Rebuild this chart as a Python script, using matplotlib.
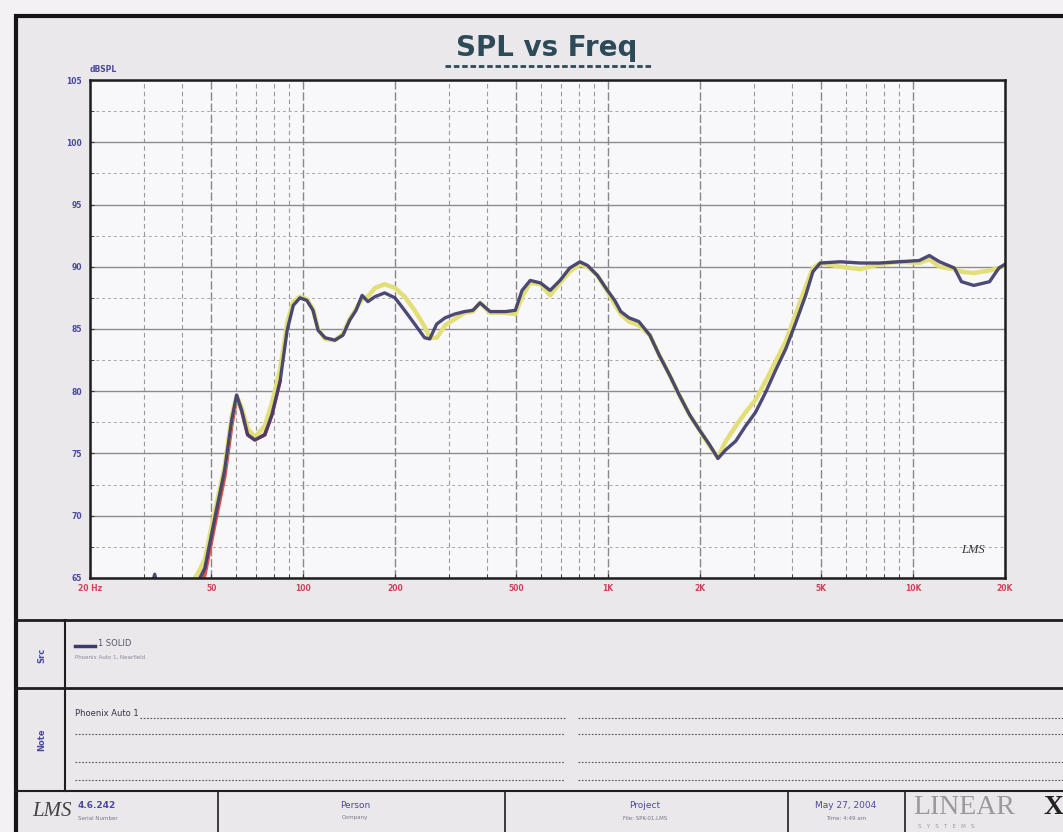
import numpy as np
import matplotlib.pyplot as plt
from matplotlib.ticker import FixedLocator, NullFormatter

freq_hz = [20, 30, 32.6, 35, 42, 45, 47.6, 51.2, 55.3, 58.3, 60.5, 62.8, 65.8, 69.4,
           74.8, 78.9, 84.1, 88.6, 92.8, 97.6, 102.8, 107.7, 111.9, 117.9, 127, 135,
           142, 149, 156, 163, 172, 185, 200, 215, 232, 250, 260, 274, 292, 314, 338,
           360, 380, 410, 460, 496, 522, 555, 600, 645, 695, 748, 808, 856, 922, 995,
           1050, 1100, 1170, 1260, 1370, 1470, 1590, 1710, 1850, 1990, 2150, 2290,
           2430, 2620, 2820, 3040, 3280, 3540, 3820, 4120, 4440, 4690, 4960, 5770,
           6700, 7760, 9000, 10470, 11300, 12200, 13650, 14400, 15800, 17800, 19100,
           20000]
spl_blue = [60, 62, 65.3, 62, 62, 64.6, 65.8, 69.7, 73.7, 77.7, 79.7, 78.5, 76.5, 76.1,
            76.5, 78.1, 80.9, 84.9, 86.9, 87.5, 87.3, 86.5, 84.9, 84.3, 84.1, 84.5,
            85.7, 86.5, 87.7, 87.2, 87.6, 87.9, 87.5, 86.5, 85.4, 84.3, 84.2, 85.4,
            85.9, 86.2, 86.4, 86.5, 87.1, 86.4, 86.4, 86.5, 88.1, 88.9, 88.7, 88.1,
            88.9, 89.9, 90.4, 90.1, 89.3, 88.1, 87.3, 86.4, 85.9, 85.6, 84.5, 82.9,
            81.3, 79.7, 78.1, 76.9, 75.7, 74.6, 75.3, 76.0, 77.2, 78.3, 79.9, 81.7,
            83.4, 85.5, 87.7, 89.6, 90.3, 90.4, 90.3, 90.3, 90.4, 90.5, 90.9, 90.4,
            89.9, 88.8, 88.5, 88.8, 89.9, 90.2]
spl_yellow = [60, 62, 64.5, 62, 64.3, 65.3, 66.5, 70.2, 74.0, 78.0, 79.6, 78.7, 77.0,
              76.3, 77.2, 79.0, 81.8, 85.5, 87.2, 87.6, 87.4, 86.6, 85.0, 84.2, 84.1,
              84.6, 85.8, 86.6, 87.4, 87.6, 88.3, 88.6, 88.3, 87.6, 86.5, 85.2, 84.3,
              84.3, 85.3, 85.8, 86.3, 86.4, 87.1, 86.3, 86.3, 86.2, 87.6, 88.7, 88.6,
              87.7, 88.7, 89.6, 90.2, 90.0, 89.3, 88.0, 87.0, 86.2, 85.6, 85.3, 84.5,
              82.9, 81.3, 79.7, 78.1, 76.9, 75.6, 74.7, 76.0, 77.2, 78.3, 79.3, 80.8,
              82.4, 84.0, 86.2, 88.4, 89.9, 90.3, 90.0, 89.8, 90.2, 90.4, 90.3, 90.6,
              90.0, 89.8, 89.6, 89.5, 89.7, 89.9, 90.1]
freq_red = [42, 45, 47.6, 51.2, 55.3, 58.3, 60.5, 62.8, 65.8, 69.4, 74.8, 78.9, 84.1]
spl_red = [61, 63.5, 65.3, 69.2, 73.2, 77.3, 79.5, 78.5, 76.5, 76.1, 76.5, 78.1, 80.9]

x_ticks = [20, 50, 100, 200, 500, 1000, 2000, 5000, 10000, 20000]
x_labels = ["20 Hz", "50", "100", "200", "500", "1K", "2K", "5K", "10K", "20K"]
y_ticks = [65, 70, 75, 80, 85, 90, 95, 100, 105]

W, H = 1063, 832
fig = plt.figure(figsize=(W / 100, H / 100), dpi=100)
fig.patch.set_facecolor("#f3f1f3")

# page / form drawn in pixel coords
bg = fig.add_axes([0, 0, 1, 1])
bg.set_xlim(0, W)
bg.set_ylim(H, 0)
bg.axis("off")
bg.add_patch(plt.Rectangle((16, 16), W, H, facecolor="#ebe8ec", edgecolor="#151515", lw=3))

ink = "#1e1e1e"
bg.plot([16, W], [620, 620], color=ink, lw=2)
bg.plot([16, W], [688, 688], color=ink, lw=2)
bg.plot([16, W], [791, 791], color=ink, lw=1.5)
bg.plot([65, 65], [620, 791], color=ink, lw=1.5)
for xv in [218, 505, 788, 905]:
    bg.plot([xv, xv], [791, H], color=ink, lw=1.2)

bg.text(547, 48, "SPL vs Freq", ha="center", va="center", fontsize=20,
        fontweight="bold", color="#2c4a58")
bg.plot([445, 652], [66, 66], color="#2c4a58", lw=2, ls=(0, (2, 1)))
bg.text(90, 72, "dBSPL", fontsize=5.5, color="#4a4a9a", fontweight="bold")

# source / note panels
blue_txt = "#4a4a9a"
bg.text(42, 655, "Src", rotation=90, ha="center", va="center", fontsize=6,
        color=blue_txt, fontweight="bold")
bg.text(42, 740, "Note", rotation=90, ha="center", va="center", fontsize=6,
        color=blue_txt, fontweight="bold")
bg.plot([75, 95], [646, 646], color="#3d3b6b", lw=2.5)
bg.text(98, 643, "1 SOLID", fontsize=6, color="#555566", va="center")
bg.text(75, 657, "Phoenix Auto 1, Nearfield", fontsize=4, color="#888899", va="center")
bg.text(75, 713, "Phoenix Auto 1", fontsize=6, color="#333344", va="center")
for yv in [718, 734, 762, 780]:
    x0 = 140 if yv == 718 else 75
    bg.plot([x0, 565], [yv, yv], color="#555555", lw=0.8, ls=(0, (1.5, 1.5)))
    bg.plot([578, W], [yv, yv], color="#555555", lw=0.8, ls=(0, (1.5, 1.5)))

# title block
bg.text(32, 812, "LMS", fontsize=15, style="italic", family="Liberation Serif",
        color="#444444", va="center")
bg.text(78, 806, "4.6.242", fontsize=6.5, color=blue_txt, va="center", fontweight="bold")
bg.text(78, 818, "Serial Number", fontsize=4, color="#777788", va="center")
bg.text(355, 806, "Person", fontsize=6.5, color=blue_txt, ha="center", va="center")
bg.text(355, 818, "Company", fontsize=4, color="#777788", ha="center", va="center")
bg.text(645, 806, "Project", fontsize=6.5, color=blue_txt, ha="center", va="center")
bg.text(645, 818, "File: SPK-01.LMS", fontsize=4, color="#777788", ha="center", va="center")
bg.text(846, 806, "May 27, 2004", fontsize=6.5, color=blue_txt, ha="center", va="center")
bg.text(846, 818, "Time: 4:49 am", fontsize=4, color="#777788", ha="center", va="center")
bg.text(913, 807, "LINEAR", fontsize=20, family="Liberation Serif", color="#9a9a9a",
        va="center")
bg.text(1043, 807, "X", fontsize=20, family="Liberation Serif", color="#222222",
        va="center", fontweight="bold")
bg.text(918, 826, "S   Y   S   T   E   M   S", fontsize=4, color="#9a9a9a", va="center")

# the plot itself
ax = fig.add_axes([90 / W, 1 - 578 / H, 915 / W, 498 / H])
ax.set_facecolor("#f8f7f9")
ax.set_xscale("log")
ax.set_xlim(20, 20000)
ax.set_ylim(65, 105)

minor_x = [m * d for d in [10, 100, 1000, 10000] for m in range(1, 10)
           if 20 <= m * d <= 20000 and m * d not in x_ticks]
ax.xaxis.set_major_locator(FixedLocator(x_ticks))
ax.xaxis.set_minor_locator(FixedLocator(minor_x))
ax.xaxis.set_minor_formatter(NullFormatter())
ax.set_xticklabels(x_labels)
ax.yaxis.set_major_locator(FixedLocator(y_ticks))
ax.yaxis.set_minor_locator(FixedLocator([v + 2.5 for v in y_ticks[:-1]]))
ax.set_yticklabels([str(v) for v in y_ticks])

ax.grid(True, which="major", axis="y", color="#8c8c8c", lw=1.0)
ax.grid(True, which="minor", axis="y", color="#a8a8a8", lw=0.7, ls=(0, (3, 3)))
ax.grid(True, which="major", axis="x", color="#888888", lw=1.0, ls=(0, (6, 2)))
ax.grid(True, which="minor", axis="x", color="#9a9a9a", lw=0.8, ls=(0, (4, 3)))
ax.tick_params(axis="x", which="both", direction="in", length=3, pad=4,
               labelsize=5.5, labelcolor="#d0405a", color="#333333")
ax.tick_params(axis="y", which="both", direction="in", length=3, pad=6,
               labelsize=5.5, labelcolor="#4a4a9a", color="#333333")
for lbl in ax.get_xticklabels() + ax.get_yticklabels():
    lbl.set_fontweight("bold")
for sp in ax.spines.values():
    sp.set_color("#1e1e1e")
    sp.set_linewidth(1.8)

ax.plot(freq_red, spl_red, color="#d9534f", lw=2.8, solid_capstyle="round")
ax.plot(freq_hz, spl_yellow, color="#e3df78", lw=3.2, solid_capstyle="round")
ax.plot(freq_hz, spl_blue, color="#3d3b6b", lw=2.4, solid_capstyle="round", alpha=0.92)

ax.text(0.965, 0.05, "LMS", transform=ax.transAxes, fontsize=9, style="italic",
        color="#333333", ha="center", family="Liberation Serif")

fig.savefig("out.png", dpi=100, facecolor=fig.get_facecolor())
